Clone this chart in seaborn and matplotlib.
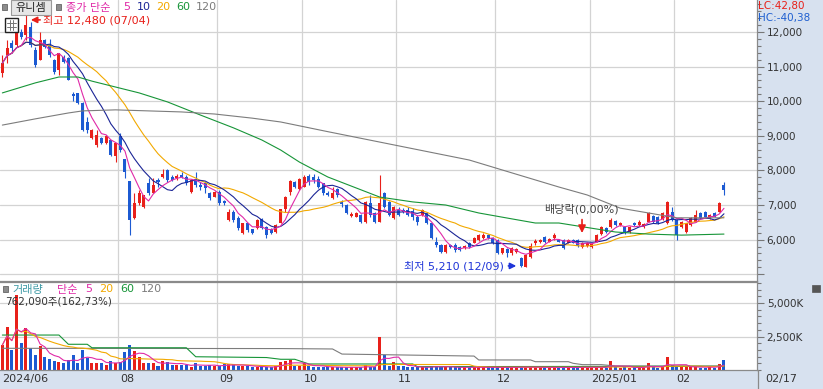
import numpy as np
import pandas as pd
import matplotlib
matplotlib.use('Agg')
import matplotlib.pyplot as plt
import matplotlib.transforms as mtransforms
from matplotlib.patches import Rectangle, FancyBboxPatch
from matplotlib.ticker import FuncFormatter, MultipleLocator, FixedLocator
import seaborn as sns

sns.set_style('white')
plt.rcParams['font.family'] = ['DejaVu Sans', 'Noto Sans CJK KR']
plt.rcParams['axes.unicode_minus'] = False

# daily candles 2024/06/27 .. 2025/02/17 (KRW)
opens = [10810, 11340, 11670, 11620, 12010, 11900, 12150, 11480, 11190, 11770,
         11620, 11190, 10900, 11290, 11240, 10200, 10230, 9960, 9410, 8930,
         8730, 8930, 8790, 8880, 8420, 8990, 8330, 7680, 6620, 7050,
         6950, 7630, 7340, 7720, 7820, 8010, 7820, 7770, 7870, 7820,
         7380, 7740, 7580, 7630, 7360, 7240, 7380, 7130, 6570, 6810,
         6620, 6190, 6470, 6300, 6330, 6590, 6370, 6300, 6230, 6490,
         6880, 7380, 7660, 7450, 7530, 7840, 7820, 7740, 7630, 7360,
         7190, 7460, 7090, 7000, 6680, 6660, 6710, 6510, 7060, 6770,
         6510, 7350, 7090, 6620, 6860, 6860, 6860, 6840, 6660, 6710,
         6760, 6470, 5940, 5840, 5650, 5840, 5840, 5790, 5750, 5890,
         5910, 5990, 6060, 6130, 6040, 5990, 5600, 5720, 5610, 5650,
         5460, 5220, 5500, 5890, 5920, 6080, 5940, 6040, 5990, 5990,
         5910, 5990, 5990, 5780, 5820, 5780, 5940, 6160, 6330, 6370,
         6550, 6420, 6360, 6230, 6470, 6420, 6370, 6520, 6680, 6660,
         6590, 6480, 6810, 6570, 6370, 6230, 6420, 6520, 6760, 6810,
         6620, 6760, 6810, 7580]
highs = [11340, 11770, 11770, 12110, 12100, 12480, 12300, 11560, 12010, 11800,
         11790, 11230, 11390, 11330, 11290, 10260, 10250, 9990, 9550, 9200,
         9170, 8960, 9010, 8890, 8800, 9070, 8340, 7690, 7340, 7430,
         7300, 7770, 7770, 7770, 8050, 8050, 7870, 7910, 7960, 7870,
         7740, 7960, 7670, 7670, 7390, 7410, 7420, 7150, 6880, 6860,
         6670, 6480, 6490, 6320, 6590, 6620, 6400, 6330, 6440, 6890,
         7250, 7720, 7690, 7770, 7870, 7890, 7890, 7840, 7650, 7400,
         7530, 7480, 7150, 7030, 6790, 6800, 6740, 7120, 7290, 6800,
         7870, 7380, 7120, 6970, 6950, 6900, 6950, 6900, 6710, 6880,
         6790, 6490, 6090, 5870, 5870, 5870, 5890, 5820, 5830, 5920,
         6080, 6160, 6180, 6160, 6070, 6010, 5770, 5750, 5790, 5760,
         5490, 5590, 5890, 6020, 6020, 6110, 6050, 6180, 6020, 6010,
         6010, 6010, 6020, 5920, 5940, 5890, 6160, 6390, 6360, 6620,
         6580, 6500, 6390, 6390, 6500, 6560, 6480, 6790, 6710, 6690,
         6810, 7110, 6950, 6590, 6550, 6490, 6650, 6860, 6790, 6840,
         6740, 6790, 7090, 7670]
lows = [10710, 11100, 11380, 11570, 11800, 11770, 11570, 11000, 11190, 11540,
        11290, 10800, 10760, 11100, 10600, 10000, 9920, 9150, 9070, 8900,
        8690, 8760, 8770, 8410, 8250, 8540, 7770, 6130, 6600, 7000,
        6900, 7290, 7340, 7530, 7770, 7670, 7680, 7720, 7770, 7580,
        7360, 7530, 7430, 7340, 7150, 7220, 7000, 6990, 6550, 6520,
        6280, 6170, 6230, 6170, 6300, 6300, 6040, 6170, 6200, 6470,
        6810, 7290, 7500, 7430, 7510, 7580, 7630, 7500, 7290, 7250,
        7180, 7240, 6950, 6730, 6650, 6640, 6490, 6490, 6650, 6480,
        6510, 6920, 6680, 6600, 6680, 6780, 6680, 6570, 6420, 6690,
        6440, 6010, 5800, 5620, 5620, 5760, 5650, 5680, 5730, 5770,
        5890, 5970, 6010, 6010, 5870, 5580, 5580, 5500, 5560, 5620,
        5210, 5210, 5460, 5840, 5900, 5910, 5920, 5990, 5920, 5720,
        5890, 5890, 5790, 5760, 5790, 5750, 5920, 6130, 6200, 6350,
        6400, 6400, 6150, 6200, 6400, 6400, 6350, 6500, 6490, 6440,
        6560, 6440, 6550, 5990, 6340, 6200, 6400, 6500, 6590, 6640,
        6590, 6640, 6790, 7300]
closes = [11100, 11530, 11530, 12010, 11860, 12200, 11620, 11050, 11770, 11570,
          11340, 10850, 11380, 11140, 10610, 10150, 9940, 9170, 9170, 9170,
          9020, 8790, 8990, 8450, 8790, 8590, 7960, 6570, 7050, 7340,
          7290, 7340, 7580, 7670, 7910, 7720, 7720, 7840, 7820, 7630,
          7720, 7580, 7510, 7480, 7190, 7380, 7050, 7050, 6810, 6570,
          6330, 6470, 6280, 6200, 6570, 6330, 6130, 6200, 6420, 6880,
          7240, 7700, 7530, 7740, 7820, 7670, 7720, 7530, 7340, 7290,
          7360, 7290, 7030, 6760, 6740, 6760, 6510, 7090, 6710, 6510,
          7060, 6940, 6710, 6950, 6710, 6810, 6710, 6660, 6520, 6860,
          6470, 6040, 5840, 5650, 5840, 5780, 5700, 5700, 5810, 5790,
          6050, 6130, 6130, 6040, 5890, 5600, 5750, 5610, 5750, 5720,
          5240, 5560, 5820, 5970, 5990, 5940, 6020, 6130, 5940, 5750,
          5990, 5910, 5820, 5890, 5910, 5870, 6130, 6360, 6230, 6570,
          6420, 6470, 6180, 6360, 6420, 6520, 6450, 6760, 6520, 6470,
          6780, 7090, 6570, 6130, 6520, 6470, 6620, 6710, 6620, 6660,
          6710, 6660, 7050, 7440]
volumes = [1865000, 3230000, 1490000, 5600000, 2040000, 3110000, 1620000, 1120000, 1790000, 990000,
           800000, 700000, 620000, 500000, 750000, 1120000, 550000, 1490000, 870000, 550000,
           550000, 500000, 370000, 700000, 500000, 620000, 1370000, 1865000, 1440000, 990000,
           500000, 500000, 500000, 300000, 700000, 620000, 370000, 370000, 370000, 370000,
           250000, 550000, 300000, 300000, 370000, 300000, 300000, 420000, 420000, 420000,
           300000, 300000, 300000, 250000, 250000, 200000, 200000, 200000, 300000, 620000,
           700000, 750000, 300000, 300000, 500000, 300000, 250000, 250000, 250000, 200000,
           200000, 200000, 200000, 200000, 200000, 200000, 200000, 370000, 200000, 200000,
           2490000, 1120000, 300000, 620000, 300000, 300000, 200000, 200000, 200000, 200000,
           200000, 300000, 300000, 200000, 200000, 200000, 200000, 200000, 200000, 200000,
           200000, 200000, 200000, 200000, 200000, 200000, 200000, 200000, 200000, 200000,
           250000, 200000, 200000, 200000, 200000, 200000, 200000, 200000, 180000, 180000,
           200000, 180000, 200000, 250000, 180000, 180000, 200000, 250000, 180000, 670000,
           200000, 180000, 200000, 180000, 200000, 200000, 180000, 500000, 200000, 180000,
           200000, 950000, 370000, 250000, 200000, 200000, 200000, 300000, 180000, 180000,
           200000, 180000, 468310, 762090]

# long averages reach back before the first candle: (candle index, value)
ma60_pts = [(0, 10240), (7, 10530), (12, 10700), (16, 10700), (19, 10580), (24, 10410),
            (29, 10240), (35, 9980), (42, 9600), (49, 9230), (55, 8880), (59, 8590),
            (63, 8240), (69, 7810), (80, 7230), (87, 7090), (94, 7000), (101, 6770),
            (108, 6600), (113, 6480), (118, 6480), (130, 6220), (137, 6160), (144, 6130),
            (153, 6160)]
ma120_pts = [(0, 9310), (7, 9490), (14, 9660), (17, 9720), (24, 9750), (31, 9720),
             (38, 9690), (45, 9630), (53, 9510), (59, 9400), (69, 9120), (84, 8710),
             (99, 8300), (108, 7930), (118, 7520), (124, 7290), (131, 6910), (137, 6770),
             (143, 6630), (153, 6630)]
vol_ma60_pts = [(0, 2610), (12, 2610), (14, 1920), (18, 1920), (19, 1660), (39, 1660),
                (41, 990), (56, 930), (59, 800), (62, 800), (65, 450), (87, 450),
                (88, 250), (153, 280)]
vol_ma120_pts = [(0, 1620), (59, 1600), (70, 1570), (72, 1190), (100, 1040), (101, 750),
                 (112, 750), (113, 620), (120, 620), (121, 500), (123, 400), (127, 400),
                 (130, 300), (153, 290)]

month_start = [25, 46, 64, 84, 105, 125, 143]
month_labels = ['08', '09', '10', '11', '12', '2025/01', '02']
first_label, last_label = '2024/06', '02/17'
high_date, low_date = '07/04', '12/09'
exdiv_idx = 123

RED, BLUE = '#e8201a', '#1c5ad2'
C5, C10, C20, C60, C120 = '#e02aa8', '#1b2596', '#f2a900', '#179538', '#7c7c7c'
BAND = '#d7e1ef'
GRID = '#d3d3d3'
SPINE = '#8a8a8a'
LW = 0.8

W, H = 823, 389
fig = plt.figure(figsize=(W / 100, H / 100), dpi=100, facecolor=BAND)


def fx(x):
    return x / W


def fy(y):
    return 1 - y / H


ax_p = fig.add_axes([0, fy(281), fx(757), 281 / H])
ax_v = fig.add_axes([0, fy(370), fx(757), (370 - 282) / H])

idx = np.arange(len(closes))
o, h, l, c = map(np.array, (opens, highs, lows, closes))
up = c >= o
colors = np.where(up, RED, BLUE)

# candles
ax_p.vlines(idx, l, h, colors=colors, linewidth=0.8, zorder=2)
body_lo = np.minimum(o, c)
body_h = np.maximum(np.abs(c - o), 30)
ax_p.bar(idx, body_h, bottom=body_lo, width=0.64, color=colors, linewidth=0, zorder=2)

# moving averages
cs = pd.Series(closes, dtype=float)
for win, col in [(20, C20), (10, C10), (5, C5)]:
    sns.lineplot(x=idx, y=cs.rolling(win, min_periods=1).mean().values, ax=ax_p,
                 color=col, linewidth=LW, legend=False, zorder=3)
for pts, col in [(ma60_pts, C60), (ma120_pts, C120)]:
    sns.lineplot(x=[p[0] for p in pts], y=[p[1] for p in pts], ax=ax_p,
                 color=col, linewidth=LW, legend=False, zorder=3)

# volume
vk = np.array(volumes) / 1000
ax_v.bar(idx, vk, width=0.64, color=colors, linewidth=0, zorder=2)
vs = pd.Series(vk)
for pts, col in [(vol_ma120_pts, C120), (vol_ma60_pts, C60)]:
    sns.lineplot(x=[p[0] for p in pts], y=[p[1] for p in pts], ax=ax_v,
                 color=col, linewidth=LW, legend=False, zorder=3)
for win, col in [(20, C20), (5, C5)]:
    sns.lineplot(x=idx, y=vs.rolling(win, min_periods=1).mean().values, ax=ax_v,
                 color=col, linewidth=LW, legend=False, zorder=3)

# axes cosmetics
xmin, xmax = -0.5, 160
for ax in (ax_p, ax_v):
    ax.set_xlim(xmin, xmax)
    ax.set_facecolor('white')
    ax.set_xlabel('')
    ax.set_ylabel('')
    ax.yaxis.tick_right()
    ax.set_xticks([m - 0.5 for m in month_start])
    ax.grid(True, color=GRID, linewidth=0.9, zorder=0)
    ax.set_axisbelow(True)
    ax.spines['left'].set_visible(False)
    for s in ('right', 'top', 'bottom'):
        ax.spines[s].set_color(SPINE)
        ax.spines[s].set_linewidth(0.9)
    ax.tick_params(axis='y', which='major', direction='out', length=5, width=0.8,
                   color='#777777', labelsize=7.5, labelcolor='#333333', pad=2)
    ax.tick_params(axis='y', which='minor', direction='out', length=3, width=0.8,
                   color='#777777')
ax_p.spines['top'].set_visible(False)

ax_p.set_ylim(4804, 12925)
ax_p.yaxis.set_major_locator(FixedLocator(range(5000, 13000, 1000)))
ax_p.yaxis.set_minor_locator(MultipleLocator(200))
ax_p.yaxis.set_major_formatter(FuncFormatter(lambda v, p: '' if v < 5500 else f'{int(v):,}'))
ax_p.tick_params(axis='x', length=0, labelbottom=False)

ax_v.set_ylim(0, 6570)
ax_v.yaxis.set_major_locator(FixedLocator([2500, 5000]))
ax_v.yaxis.set_minor_locator(MultipleLocator(500))
ax_v.yaxis.set_major_formatter(FuncFormatter(lambda v, p: f'{int(v):,}K'))
ax_v.tick_params(axis='x', direction='out', length=14, width=0.9, color='#9a9a9a',
                 labelbottom=False)

# month labels in the bottom band
tr = mtransforms.offset_copy(mtransforms.blended_transform_factory(ax_v.transData, ax_v.transAxes),
                             fig=fig, x=2, y=0, units='dots')
for m, lab in zip(month_start, month_labels):
    ax_v.text(m - 0.5, -9 / 88, lab, transform=tr, ha='left', va='center',
              fontsize=8, color='#333333')
ax_v.text(0.003, -9 / 88, first_label, transform=ax_v.transAxes, ha='left', va='center',
          fontsize=8, color='#333333')
ax_v.text(1 + 8 / 757, -9 / 88, last_label, transform=ax_v.transAxes, ha='left', va='center',
          fontsize=8, color='#333333')
fig.add_artist(plt.Line2D([fx(757.5), fx(757.5)], [fy(389), fy(370)], color=SPINE, lw=0.9))

# high / low / ex-dividend markers
hi = int(np.argmax(h))
lo = int(np.argmin(l))
ax_p.annotate('', xy=(hi + 0.45, 12350), xytext=(hi + 3.6, 12350),
              arrowprops=dict(arrowstyle='-|>', color=RED, lw=1.2, mutation_scale=9))
ax_p.text(hi + 3.7, 12350, f'최고 {h[hi]:,} ({high_date})', color=RED, fontsize=8,
          ha='left', va='center')
ax_p.annotate('', xy=(lo - 0.45, 5240), xytext=(lo - 3.3, 5240),
              arrowprops=dict(arrowstyle='-|>', color='#1f35d8', lw=1.2, mutation_scale=9))
ax_p.text(lo - 3.6, 5240, f'최저 {l[lo]:,} ({low_date})', color='#1f35d8', fontsize=8,
          ha='right', va='center')
ax_p.annotate('', xy=(exdiv_idx - 0.1, 6110), xytext=(exdiv_idx - 0.1, 6660),
              arrowprops=dict(arrowstyle='-|>', color=RED, lw=1.2, mutation_scale=11))
ax_p.text(exdiv_idx - 0.2, 6870, '배당락(0,00%)', color='#444444', fontsize=8,
          ha='center', va='center')

# header: name box and MA legend
fig.add_artist(Rectangle((fx(2), fy(10)), fx(5), 6 / H, facecolor='#8c8c8c',
                         edgecolor='#666666', lw=0.6))
fig.add_artist(FancyBboxPatch((fx(11), fy(15)), fx(40), 15 / H, boxstyle='square,pad=0',
                              facecolor='#e6e6e6', edgecolor='#9a9a9a', lw=0.8))
fig.text(fx(31), fy(7.5), '유니셈', fontsize=8, color='#222222', ha='center', va='center')
fig.add_artist(Rectangle((fx(56), fy(10)), fx(5), 6 / H, facecolor='#8c8c8c',
                         edgecolor='#666666', lw=0.6))
for x, s, col in [(66, '종가 단순', C5), (123, '5', C5), (137, '10', C10),
                  (156, '20', C20), (176, '60', C60), (196, '120', C120)]:
    fig.text(fx(x), fy(7.5), s, fontsize=8, color=col, ha='left', va='center')

# small table icon
fig.add_artist(Rectangle((fx(5), fy(32)), fx(13), 14 / H, facecolor='white',
                         edgecolor='#222222', lw=1))
for yy in (22.5, 26.5):
    fig.add_artist(plt.Line2D([fx(7), fx(16)], [fy(yy), fy(yy)], color='#777777', lw=0.7))
for xx in (9.5, 13):
    fig.add_artist(plt.Line2D([fx(xx), fx(xx)], [fy(20), fy(30)], color='#777777', lw=0.7))

# change vs low / high
lc = c[-1] / l[lo] * 100 - 100
hc = c[-1] / h[hi] * 100 - 100
fig.text(fx(758), fy(6.5), f'LC:{lc:.2f}'.replace('.', ','), fontsize=7.5, color=RED,
         ha='left', va='center')
fig.text(fx(758), fy(18.5), f'HC:{hc:.2f}'.replace('.', ','), fontsize=7.5, color='#1f5fd0',
         ha='left', va='center')

# volume legend
fig.add_artist(Rectangle((fx(3), fy(292)), fx(5), 6 / H, facecolor='#8c8c8c',
                         edgecolor='#666666', lw=0.6))
for x, s, col in [(12, '거래량', '#3f9aa6'), (57, '단순', C5), (85, '5', C5),
                  (99, '20', C20), (120, '60', C60), (141, '120', C120)]:
    fig.text(fx(x), fy(289.5), s, fontsize=8, color=col, ha='left', va='center')
pct = volumes[-1] / volumes[-2] * 100
fig.text(fx(5), fy(302), f'{volumes[-1]:,}주({pct:.2f}%)'.replace('.', ','), fontsize=7.5,
         color='#333333', ha='left', va='center')
fig.add_artist(Rectangle((fx(812), fy(292)), fx(8), 7 / H, facecolor='#555555',
                         edgecolor='#555555', lw=0.5))

fig.savefig('out.png', dpi=100, facecolor=BAND)
